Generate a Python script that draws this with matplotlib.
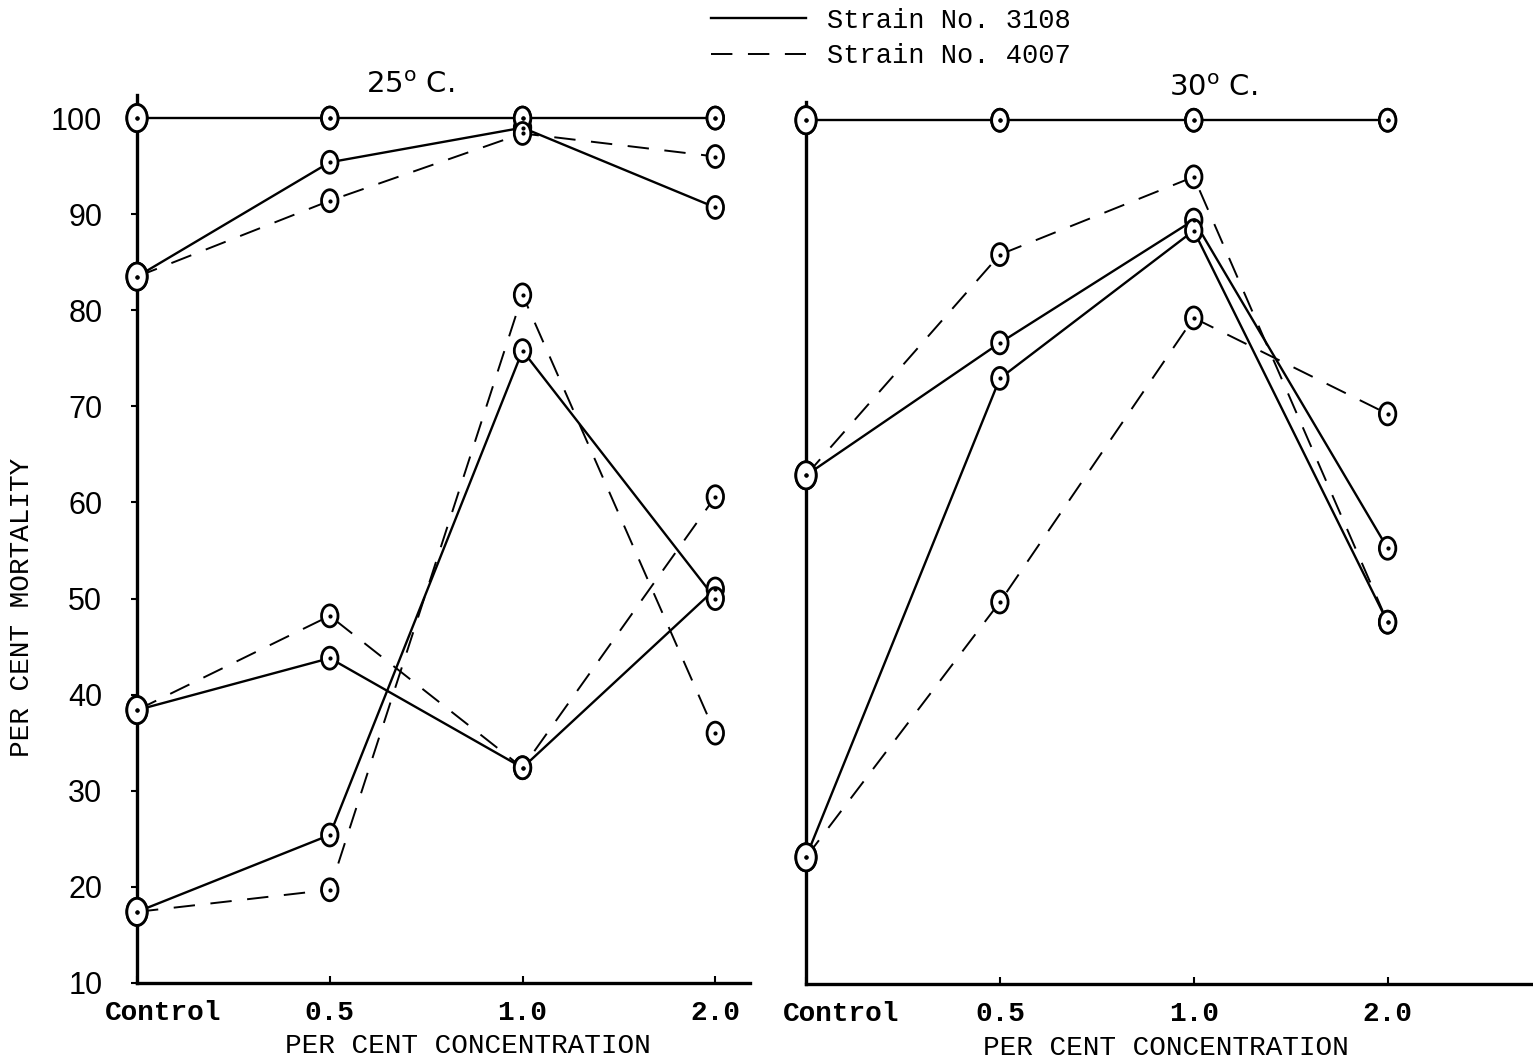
import matplotlib
matplotlib.use("Agg")
import matplotlib.pyplot as plt
from matplotlib.path import Path
from matplotlib.transforms import Affine2D, ScaledTranslation
from matplotlib.lines import Line2D
import numpy as np

# ---------------- data ----------------
categories = ["Control", "0.5", "1.0", "2.0"]

# 25 C panel
left_3108 = [
    [100, 100, 100, 100],
    [83.5, 95.4, 99.0, 90.7],
    [38.4, 43.8, 32.4, 51.0],
    [17.4, 25.4, 75.8, 50.0],
]
left_4007 = [
    [100, 100, 100, 100],
    [83.5, 91.4, 98.4, 96.0],
    [38.4, 48.2, 32.4, 60.6],
    [17.4, 19.7, 81.6, 36.0],
]

# 30 C panel
right_3108 = [
    [100, 100, 100, 100],
    [63.0, 76.8, 89.6, 55.4],
    [23.2, 73.1, 88.5, 47.7],
]
right_4007 = [
    [100, 100, 100, 100],
    [63.0, 86.0, 94.1, 47.7],
    [23.2, 49.8, 79.4, 69.4],
]

y_ticks = [10, 20, 30, 40, 50, 60, 70, 80, 90, 100]
legend_labels = ["Strain No. 3108", "Strain No. 4007"]
panel_titles = [r"25$^{\mathrm{o}}$ C.", r"30$^{\mathrm{o}}$ C."]
x_label = "PER CENT CONCENTRATION"
y_label = "PER CENT MORTALITY"

# ---------------- style ----------------
W, H, DPI = 1533, 1064, 100
mono = "Liberation Mono"
ellipse = Path.unit_circle().transformed(Affine2D().scale(0.75, 1.0))
marker_sizes = [380, 250, 250, 250]  # control markers drawn larger

fig = plt.figure(figsize=(W / DPI, H / DPI), dpi=DPI)
axL = fig.add_axes([137 / W, 1 - 983 / H, (750 - 137) / W, (983 - 95) / H])
axR = fig.add_axes([806 / W, 1 - 984 / H, (1533 - 806) / W, (984 - 102) / H])

x = np.arange(len(categories))


def draw(ax, solid, dashed):
    for series in dashed:
        ax.plot(x, series, color="black", lw=1.4, ls=(0, (11, 8)), zorder=2,
                clip_on=False)
    for series in solid:
        ax.plot(x, series, color="black", lw=1.7, ls="-", zorder=3,
                clip_on=False)
    for series in solid + dashed:
        ax.scatter(x, series, s=marker_sizes, marker=ellipse, facecolor="white",
                   edgecolor="black", linewidths=2.0, zorder=5, clip_on=False)
        ax.scatter(x, series, s=4, marker="o", color="black", zorder=6,
                   clip_on=False)


draw(axL, left_3108, left_4007)
draw(axR, right_3108, right_4007)

for ax in (axL, axR):
    ax.set_ylim(10, 102.4)
    for s in ("top", "right"):
        ax.spines[s].set_visible(False)
    for s in ("left", "bottom"):
        ax.spines[s].set_linewidth(2.4)
    ax.set_xticks(x)
    ax.set_xticklabels(categories, fontfamily=mono, fontsize=20,
                       fontweight="bold")
    ax.tick_params(axis="x", direction="in", length=5, width=1.5, pad=12)
    ax.set_xlabel(x_label, fontfamily=mono, fontsize=20)

axL.set_xlim(0, 3.18)
axR.set_xlim(0, 3.75)
axR.set_ylim(10, 101.9)

axL.set_yticks(y_ticks)
axL.set_yticklabels([str(v) for v in y_ticks], fontfamily="Liberation Sans",
                    fontsize=22)
axL.tick_params(axis="y", direction="out", length=4, width=1.5, pad=21)
axR.set_yticks([])

# shift "Control" label to the right as in the original
for ax, dx in ((axL, 26), (axR, 35)):
    lab = ax.get_xticklabels()[0]
    lab.set_transform(lab.get_transform() + ScaledTranslation(dx / DPI, 0, fig.dpi_scale_trans))

axL.xaxis.set_label_coords(0.54, -0.056)
axR.xaxis.set_label_coords(0.495, -0.058)

axL.text(0.445, 1.011, panel_titles[0], transform=axL.transAxes, ha="center",
         va="center", fontsize=21, fontfamily="DejaVu Sans")
axR.text(0.56, 1.016, panel_titles[1], transform=axR.transAxes, ha="center",
         va="center", fontsize=21, fontfamily="DejaVu Sans")

fig.text(22 / W, 1 - 607 / H, y_label, rotation=90, ha="center", va="center",
         fontfamily=mono, fontsize=20)

handles = [Line2D([], [], color="black", lw=1.7, ls="-"),
           Line2D([], [], color="black", lw=1.4, ls=(0, (11, 8)))]
fig.legend(handles, legend_labels, loc="upper left",
           bbox_to_anchor=(700 / W, 1 + 3 / H), frameon=False,
           prop={"family": mono, "size": 19.5}, handlelength=3.5,
           handletextpad=0.8, labelspacing=0.35, borderaxespad=0)

fig.savefig("out.png", dpi=DPI, facecolor="white")
